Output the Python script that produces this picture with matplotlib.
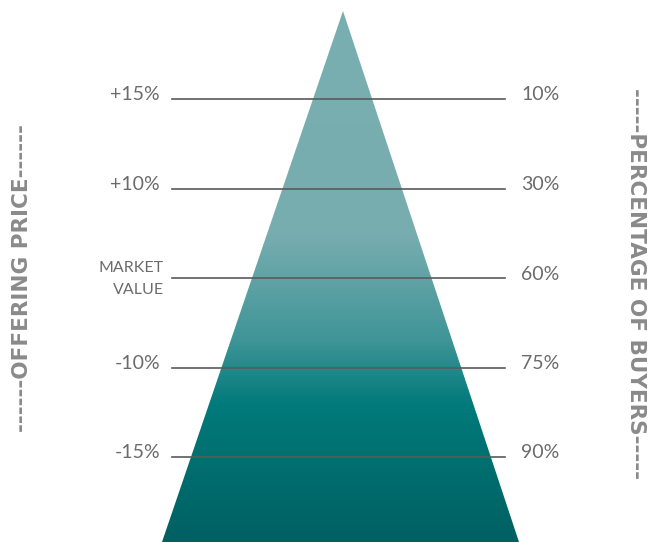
import numpy as np
import matplotlib.pyplot as plt
from matplotlib.colors import LinearSegmentedColormap
from matplotlib.patches import Polygon

# data
price_labels = ['+15%', '+10%', 'MARKET\nVALUE', '-10%', '-15%']
buyer_labels = ['10%', '30%', '60%', '75%', '90%']
left_title = '------OFFERING PRICE------'
right_title = '-----PERCENTAGE OF BUYERS-----'

W, H = 648, 542
fig = plt.figure(figsize=(W / 100, H / 100), dpi=100)
ax = fig.add_axes([0, 0, 1, 1])
ax.set_xlim(0, W)
ax.set_ylim(H, 0)
ax.axis('off')

# pyramid with vertical gradient
tri = Polygon([(343, 11), (162, 542), (519, 542)], closed=True,
              facecolor='none', edgecolor='none')
ax.add_patch(tri)
cmap = LinearSegmentedColormap.from_list('pyr', [
    (0.0, '#7aafb2'),
    (0.42, '#78adb0'),
    (0.62, '#3f9597'),
    (0.74, '#027a7b'),
    (1.0, '#006062'),
])
grad = np.linspace(0, 1, 256).reshape(-1, 1)
im = ax.imshow(grad, cmap=cmap, aspect='auto', extent=(162, 519, 542, 11),
               interpolation='bicubic', zorder=1)
im.set_clip_path(tri)

row_y = [99 + i * 89.5 for i in range(len(price_labels))]
label_color = '#6b6b6b'
for y, pl, bl in zip(row_y, price_labels, buyer_labels):
    ax.plot([172, 505], [y, y], color='#5a5a5a', lw=1.2, zorder=3)
    if '\n' in pl:
        ax.text(164, y + 1, pl, ha='right', va='center', fontsize=11.5,
                family='Lato', color=label_color, linespacing=1.75)
    else:
        ax.text(160, y - 4, pl, ha='right', va='center', fontsize=14,
                family='Lato', color=label_color)
    ax.text(521, y - 4, bl, ha='left', va='center', fontsize=14,
            family='Lato', color=label_color)

ax.text(22, 278, left_title, rotation=90, ha='center', va='center',
        fontsize=15.5, fontweight='bold', family='DejaVu Sans', color='#8a8a8a')
ax.text(636, 284, right_title, rotation=-90, ha='center', va='center',
        fontsize=15.5, fontweight='bold', family='DejaVu Sans', color='#8a8a8a')

fig.savefig('out.png', dpi=100)
